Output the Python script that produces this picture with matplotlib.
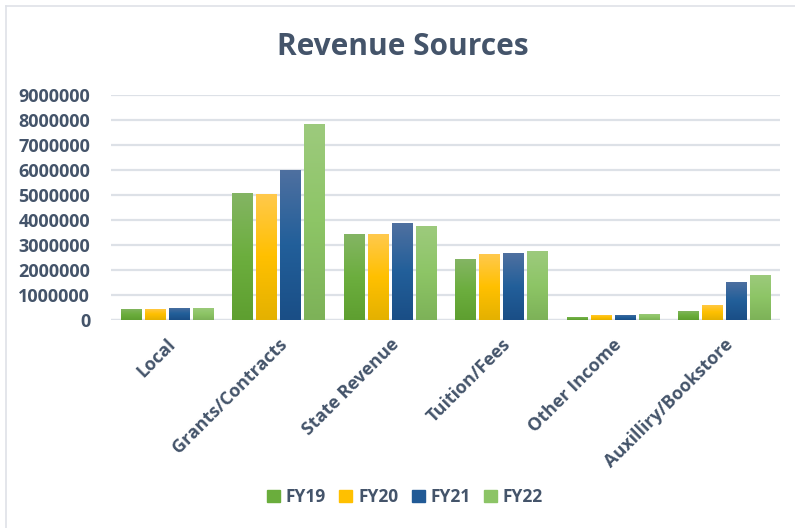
import matplotlib
matplotlib.use("Agg")
import matplotlib.pyplot as plt
import numpy as np
from matplotlib.colors import LinearSegmentedColormap
from matplotlib.patches import Rectangle

categories = ["Local", "Grants/Contracts", "State Revenue", "Tuition/Fees",
              "Other Income", "Auxilliry/Bookstore"]
series_names = ["FY19", "FY20", "FY21", "FY22"]
fy19 = [440000, 5070000, 3430000, 2430000, 120000, 360000]
fy20 = [440000, 5030000, 3430000, 2630000, 200000, 600000]
fy21 = [480000, 5990000, 3870000, 2670000, 200000, 1520000]
fy22 = [480000, 7820000, 3750000, 2750000, 240000, 1800000]
yticks = [0, 1000000, 2000000, 3000000, 4000000, 5000000, 6000000, 7000000, 8000000, 9000000]

series = [fy19, fy20, fy21, fy22]
# gradient stops: top, middle, bottom
grads = [
    ["#84b564", "#6cae3e", "#5e9f30"],
    ["#ffc94d", "#ffc000", "#e4b100"],
    ["#4f70a0", "#225f9a", "#1a4e86"],
    ["#9dca7d", "#8dc566", "#7db258"],
]
legend_colors = ["#6aad3c", "#ffc000", "#215a96", "#8cc466"]

text_color = "#44546a"
font = "Open Sans"

fig = plt.figure(figsize=(7.95, 5.28), dpi=100)
fig.patch.set_facecolor("white")
ax = fig.add_axes([111 / 795, 1 - 320 / 528, (780 - 111) / 795, (320 - 94.5) / 528])

x = np.arange(len(categories))
bw = 0.18
step = 0.215

grad_img = np.linspace(0, 1, 256).reshape(-1, 1)
for i, (vals, g) in enumerate(zip(series, grads)):
    cmap = LinearSegmentedColormap.from_list(f"g{i}", [g[2], g[1], g[0]])
    offs = (i - 1.5) * step
    bars = ax.bar(x + offs, vals, width=bw, color=legend_colors[i], zorder=3,
                  label=series_names[i], linewidth=0)
    for b in bars:
        x0, y0 = b.get_x(), b.get_y()
        w, h = b.get_width(), b.get_height()
        im = ax.imshow(grad_img, cmap=cmap, origin="lower", aspect="auto",
                       extent=[x0, x0 + w, y0, y0 + h], zorder=4)
        im.set_clip_path(b)

ax.set_xlim(-0.5, len(categories) - 0.5)
ax.set_ylim(0, 9000000)

ax.set_yticks(yticks)
ax.set_yticklabels([str(v) for v in yticks], fontsize=13, fontweight="bold",
                   color=text_color, family=font)
ax.set_xticks(x)
ax.set_xticklabels(categories, rotation=45, ha="right", rotation_mode="anchor",
                   fontsize=13, fontweight="bold", color=text_color, family=font)
ax.tick_params(axis="both", length=0)
ax.tick_params(axis="y", pad=15)
ax.tick_params(axis="x", pad=11)
for s in ax.spines.values():
    s.set_visible(False)
ax.grid(axis="y", color="#dde1e7", linewidth=1.6, zorder=0)
ax.set_axisbelow(True)
ax.axhline(0, color="#dde1e7", linewidth=1.6, zorder=2)

fig.text(403 / 795, 1 - 47 / 528, "Revenue Sources", ha="center", va="center",
         fontsize=21.5, fontweight="bold", color=text_color, family=font)

handles = [Rectangle((0, 0), 1, 1, color=c) for c in legend_colors]
fig.legend(handles, series_names, loc="center", bbox_to_anchor=(405 / 795, 1 - 497 / 528),
           ncol=4, frameon=False, handlelength=0.75, handleheight=0.75,
           columnspacing=0.75, handletextpad=0.35,
           prop={"family": font, "weight": "bold", "size": 12.5}, labelcolor=text_color)

# outer border (left/top visible)
fig.add_artist(plt.Line2D([6 / 795, 6 / 795], [0, 1 - 6 / 528], transform=fig.transFigure,
                          color="#dfe2e8", linewidth=1.2))
fig.add_artist(plt.Line2D([6 / 795, 1], [1 - 6 / 528, 1 - 6 / 528], transform=fig.transFigure,
                          color="#dfe2e8", linewidth=1.2))

fig.savefig("out.png", dpi=100, facecolor="white")
